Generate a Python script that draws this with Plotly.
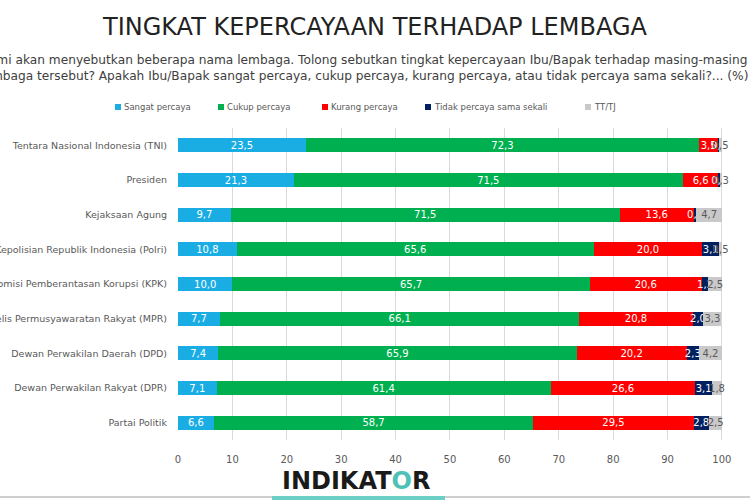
import plotly.graph_objects as go

categories = [
    "Tentara Nasional Indonesia (TNI)",
    "Presiden",
    "Kejaksaan Agung",
    "Kepolisian Republik Indonesia (Polri)",
    "Komisi Pemberantasan Korupsi (KPK)",
    "Majelis Permusyawaratan Rakyat (MPR)",
    "Dewan Perwakilan Daerah (DPD)",
    "Dewan Perwakilan Rakyat (DPR)",
    "Partai Politik",
]
sangat = [23.5, 21.3, 9.7, 10.8, 10.0, 7.7, 7.4, 7.1, 6.6]
cukup = [72.3, 71.5, 71.5, 65.6, 65.7, 66.1, 65.9, 61.4, 58.7]
kurang = [3.5, 6.6, 13.6, 20.0, 20.6, 20.8, 20.2, 26.6, 29.5]
tidak = [0.2, 0.3, 0.5, 3.1, 1.2, 2.0, 2.3, 3.1, 2.8]
ttj = [0.5, 0.3, 4.7, 0.5, 2.5, 3.3, 4.2, 1.8, 2.5]

series = [
    ("Sangat percaya", sangat, "#1AADE4", "white"),
    ("Cukup percaya", cukup, "#00B050", "white"),
    ("Kurang percaya", kurang, "#FF0000", "white"),
    ("Tidak percaya sama sekali", tidak, "#002060", "white"),
    ("TT/TJ", ttj, "#C9C9C9", "#595959"),
]
legend_x = [115, 218, 322, 425, 585]

FONT = "DejaVu Sans"
L, R, T, B = 178, 27, 128, 60
W = 750 - L - R
H = 500 - T - B


def px(xp):
    return (xp - L) / W


def py(yp):
    return (500 - B - yp) / H


fig = go.Figure()
for (name, vals, color, tcolor), lx in zip(series, legend_x):
    fig.add_trace(go.Bar(
        y=categories, x=vals, name=name, orientation="h",
        marker=dict(color=color, line=dict(width=0)),
        text=[f"{v:.1f}".replace(".", ",") for v in vals],
        textposition="inside", insidetextanchor="middle", textangle=0,
        constraintext="none",
        textfont=dict(color=tcolor, size=10, family=FONT),
        cliponaxis=False, showlegend=False,
    ))
    # manual legend entry
    fig.add_shape(type="rect", xref="paper", yref="paper",
                  x0=px(lx), x1=px(lx + 6), y0=py(104), y1=py(110),
                  fillcolor=color, line=dict(width=0))
    fig.add_annotation(text=name, xref="paper", yref="paper",
                       x=px(lx + 7), y=py(107), xanchor="left", yanchor="middle",
                       showarrow=False, font=dict(size=8.5, color="#595959", family=FONT))

fig.update_layout(
    barmode="stack",
    bargap=0.6,
    width=750, height=500,
    paper_bgcolor="white", plot_bgcolor="white",
    margin=dict(l=L, r=R, t=T, b=B, autoexpand=False),
    font=dict(family=FONT, color="#595959", size=10),
    showlegend=False,
    xaxis=dict(range=[0, 100.2], tickvals=list(range(0, 101, 10)), showgrid=True,
               gridcolor="#D9D9D9", zeroline=False, showline=False,
               tickfont=dict(size=10, color="#595959"), ticklabelstandoff=12,
               ticks="", fixedrange=True),
    yaxis=dict(autorange="reversed", showgrid=False, showline=False,
               ticklabelstandoff=10, tickfont=dict(size=9.5, color="#595959"),
               automargin=False, fixedrange=True),
)

fig.add_annotation(
    text="TINGKAT KEPERCAYAAN TERHADAP LEMBAGA",
    xref="paper", yref="paper", x=px(375), y=py(27),
    showarrow=False, font=dict(size=24, color="#222222", family=FONT),
    xanchor="center", yanchor="middle",
)
fig.add_annotation(
    text="Kami akan menyebutkan beberapa nama lembaga. Tolong sebutkan tingkat kepercayaan Ibu/Bapak terhadap masing-masing<br>lembaga tersebut? Apakah Ibu/Bapak sangat percaya, cukup percaya, kurang percaya, atau tidak percaya sama sekali?... (%)",
    xref="paper", yref="paper", x=px(364), y=py(68),
    showarrow=False, font=dict(size=12.2, color="#404040", family=FONT),
    xanchor="center", yanchor="middle", align="center",
)
fig.add_annotation(
    text="<b>INDIKAT<span style='color:#4FC1B6'>O</span>R</b>",
    xref="paper", yref="paper", x=px(356), y=py(481),
    showarrow=False, font=dict(size=24, color="#1a1a1a", family=FONT),
    xanchor="center", yanchor="middle",
)

fig.add_shape(type="line", xref="paper", yref="paper", x0=px(0), x1=px(750),
              y0=py(497), y1=py(497), line=dict(color="#BFBFBF", width=1.5))
fig.add_shape(type="line", xref="paper", yref="paper", x0=px(272), x1=px(445),
              y0=py(498), y1=py(498), line=dict(color="#6CCFC6", width=4))

fig.write_html("out.html", config={"displayModeBar": False},
               post_script="document.body.style.margin='0';")
